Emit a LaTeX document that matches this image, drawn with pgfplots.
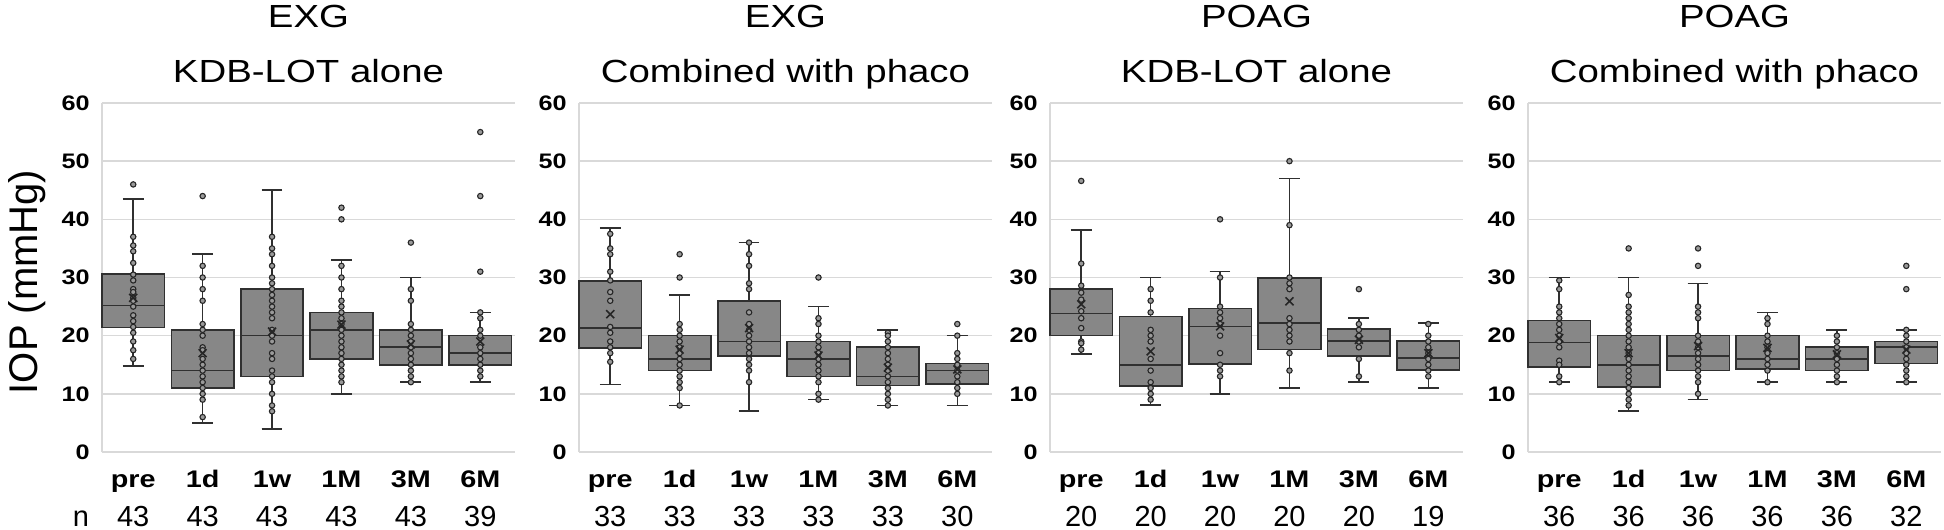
\documentclass[border=0pt]{standalone}
\usepackage{graphicx}
\usepackage{pgfplots}
\pgfplotsset{compat=1.18}
\usepgfplotslibrary{statistics}
\usepackage{fontspec}
\setmainfont{Liberation Sans}[FakeStretch=1.2]
\newfontfamily\plainfont{Liberation Sans}
\newcommand{\sx}[1]{\scalebox{1.2}[1]{#1}}
\definecolor{gridc}{HTML}{D9D9D9}
\definecolor{boxfill}{HTML}{878787}
\definecolor{boxline}{HTML}{303030}
\definecolor{ptfill}{HTML}{9A9A9A}
\tikzset{
  nlab/.style={anchor=base, yshift=-37pt, inner sep=0pt, font=\plainfont\fontsize{14.5}{16}\selectfont},
  tlab/.style={anchor=base, inner sep=0pt, font=\fontsize{16}{18}\selectfont},
}
\pgfplotsset{
  panel/.style={
    scale only axis, width=206.5pt, height=174.5pt,
    anchor=south west,
    xmin=-0.45, xmax=5.5, ymin=0, ymax=60,
    ytick={0,10,...,60}, xtick={0,...,5},
    yticklabels={\sx{0},\sx{10},\sx{20},\sx{30},\sx{40},\sx{50},\sx{60}},
    xticklabels={\sx{pre},\sx{1d},\sx{1w},\sx{1M},\sx{3M},\sx{6M}},
    axis lines=left, axis line style={draw=gridc, line width=0.8pt, -},
    ymajorgrids, major grid style={draw=gridc, line width=0.8pt},
    major tick length=0pt,
    yticklabel style={font=\plainfont\bfseries\fontsize{10.5}{12}\selectfont, anchor=east, inner sep=0pt, xshift=-6pt},
    xticklabel style={font=\plainfont\bfseries\fontsize{12}{14}\selectfont, anchor=base, inner sep=0pt, yshift=-17.5pt},
    clip=false,
    boxplot/draw direction=y,
    boxplot/box extend=0.9, boxplot/whisker extend=0.3,
  },
  bx/.style={draw=boxline, fill=boxfill, line width=0.8pt, solid},
  pts/.style={only marks, mark=*, mark size=1.35pt, mark options={fill=ptfill, draw=black!85, line width=0.55pt}},
  mns/.style={only marks, mark=x, mark size=2.8pt, mark options={draw=black!85, line width=0.8pt}},
}
\newcommand{\nrow}[6]{%
  \node[nlab] at (axis cs:0,0) {#1};
  \node[nlab] at (axis cs:1,0) {#2};
  \node[nlab] at (axis cs:2,0) {#3};
  \node[nlab] at (axis cs:3,0) {#4};
  \node[nlab] at (axis cs:4,0) {#5};
  \node[nlab] at (axis cs:5,0) {#6};}
\newcommand{\ptitle}[2]{%
  \node[tlab, yshift=37.5pt] at (rel axis cs:0.5,1) {#1};
  \node[tlab, yshift=10pt] at (rel axis cs:0.5,1) {#2};}
\newcommand{\bp}[6]{%
  \addplot[bx, boxplot prepared={draw position=#1, lower whisker=#2, lower quartile=#3, median=#4, upper quartile=#5, upper whisker=#6}] coordinates {};}
\begin{document}
\begin{tikzpicture}
\useasboundingbox (0,0) rectangle (972pt,265pt);
\node[rotate=90, anchor=base, inner sep=0pt, font=\plainfont\fontsize{20}{22}\selectfont] at (18.5pt,124pt) {IOP (mmHg)};
% ---------- Panel 1 ----------
\begin{axis}[panel, at={(51pt,39pt)}]
\bp{0}{14.8}{21.4}{25.2}{30.6}{43.5}
\bp{1}{5}{11}{14}{21}{34}
\bp{2}{4}{13}{20}{28}{45}
\bp{3}{10}{16}{21}{24}{33}
\bp{4}{12}{15}{18}{21}{30}
\bp{5}{12}{15}{17}{20}{24}
\addplot[pts] coordinates {
(0,46)(0,37)(0,35.5)(0,34.5)(0,32.5)(0,30.5)(0,29.5)(0,28)(0,27.5)(0,26.5)(0,26)(0,25)(0,23.5)(0,22.5)(0,21.5)(0,20.5)(0,19)(0,17.5)(0,16)
(1,44)(1,32)(1,30)(1,28)(1,26)(1,22)(1,21)(1,20)(1,18)(1,17.5)(1,16)(1,15)(1,14)(1,13)(1,12)(1,11)(1,10)(1,9)(1,6)
(2,37)(2,35)(2,34)(2,32)(2,30)(2,29)(2,28)(2,27)(2,26)(2,25)(2,24)(2,23)(2,21)(2,20)(2,19)(2,17)(2,16)(2,14)(2,13)(2,12)(2,10)(2,8)(2,7)
(3,42)(3,40)(3,32)(3,30)(3,28)(3,26)(3,25)(3,24)(3,23)(3,22)(3,21)(3,20)(3,19)(3,18)(3,17)(3,16)(3,15)(3,14)(3,13)(3,12)
(4,36)(4,28)(4,26)(4,22)(4,21)(4,20)(4,19)(4,18)(4,17)(4,16)(4,15)(4,14)(4,13)(4,12)
(5,55)(5,44)(5,31)(5,24)(5,23)(5,21)(5,20)(5,18)(5,17)(5,16)(5,15)(5,14)(5,13)
};
\addplot[mns] coordinates {(0,26.5)(1,17)(2,20.7)(3,21.9)(4,18.5)(5,19)};
\ptitle{EXG}{KDB-LOT alone}
\nrow{43}{43}{43}{43}{43}{39}
\node[nlab, xshift=-10.5pt] at (rel axis cs:0,0) {n};
\end{axis}
% ---------- Panel 2 ----------
\begin{axis}[panel, at={(289.5pt,39pt)}]
\bp{0}{11.6}{17.9}{21.3}{29.4}{38.5}
\bp{1}{8}{14}{16}{20}{27}
\bp{2}{7}{16.5}{19}{26}{36}
\bp{3}{9}{13}{16}{19}{25}
\bp{4}{8}{11.4}{13}{18}{21}
\bp{5}{8}{11.7}{14}{15.2}{20}
\addplot[pts] coordinates {
(0,37.5)(0,35)(0,34)(0,31)(0,29.5)(0,27.5)(0,26)(0,21.5)(0,20.5)(0,19)(0,18)(0,17)(0,15.5)
(1,34)(1,30)(1,22)(1,21)(1,20)(1,19)(1,18)(1,17)(1,16)(1,15)(1,14)(1,13)(1,12)(1,11)(1,8)
(2,36)(2,34)(2,32)(2,29)(2,28)(2,24)(2,22)(2,21)(2,20)(2,19)(2,18)(2,17)(2,16)(2,15)(2,14)(2,12)
(3,30)(3,23)(3,22)(3,20)(3,19)(3,18)(3,17)(3,16)(3,15)(3,14)(3,13)(3,12)(3,10)(3,9)
(4,20.5)(4,20)(4,19)(4,18)(4,17)(4,16)(4,15)(4,14)(4,13)(4,12)(4,11)(4,10)(4,9)(4,8)
(5,22)(5,20)(5,17)(5,16)(5,15)(5,14)(5,13)(5,12)(5,11)(5,10)
};
\addplot[mns] coordinates {(0,23.7)(1,17.6)(2,21.3)(3,16.6)(4,14.5)(5,14.2)};
\ptitle{EXG}{Combined with phaco}
\nrow{33}{33}{33}{33}{33}{30}
\end{axis}
% ---------- Panel 3 ----------
\begin{axis}[panel, at={(525pt,39pt)}]
\bp{0}{16.8}{20}{23.8}{28}{38.2}
\bp{1}{8.1}{11.3}{15}{23.3}{30}
\bp{2}{10}{15.1}{21.6}{24.7}{31}
\bp{3}{11}{17.6}{22.2}{29.9}{47}
\bp{4}{12}{16.5}{19.1}{21.1}{23}
\bp{5}{11}{14.1}{16.2}{19.1}{22.2}
\addplot[pts] coordinates {
(0,46.6)(0,32.4)(0,28.6)(0,27.4)(0,26.2)(0,24.2)(0,23)(0,21.3)(0,19)(0,18.7)(0,17.6)
(1,28)(1,26)(1,24)(1,21)(1,20)(1,19)(1,16)(1,14)(1,12)(1,11)(1,10)(1,9)
(2,40)(2,30)(2,25)(2,24)(2,23)(2,22)(2,20)(2,17)(2,15)(2,14)(2,13)
(3,50)(3,39)(3,30)(3,29)(3,28)(3,23)(3,22)(3,21)(3,20)(3,19)(3,17)(3,14)
(4,28)(4,22)(4,21)(4,20)(4,19)(4,18)(4,16)(4,13)
(5,22)(5,20)(5,19)(5,18)(5,17)(5,16)(5,15)(5,14)(5,13)
};
\addplot[mns] coordinates {(0,25.4)(1,17.3)(2,21.6)(3,25.9)(4,19.3)(5,17)};
\ptitle{POAG}{KDB-LOT alone}
\nrow{20}{20}{20}{20}{20}{19}
\end{axis}
% ---------- Panel 4 ----------
\begin{axis}[panel, at={(764pt,39pt)}]
\bp{0}{12}{14.6}{18.8}{22.6}{30}
\bp{1}{7}{11.2}{15}{20}{30}
\bp{2}{9}{14}{16.5}{20}{29}
\bp{3}{12}{14.3}{16}{20}{24}
\bp{4}{12}{14}{16}{18}{21}
\bp{5}{12}{15.2}{18}{19}{21}
\addplot[pts] coordinates {
(0,29.5)(0,28)(0,25)(0,24)(0,23)(0,22)(0,21)(0,20)(0,19)(0,18)(0,15.7)(0,15)(0,13)(0,12)
(1,35)(1,27)(1,25)(1,24)(1,23)(1,22)(1,21)(1,20)(1,19)(1,18)(1,17)(1,16)(1,15)(1,14)(1,13)(1,12)(1,11)(1,10)(1,9)(1,8)
(2,35)(2,32)(2,25)(2,24)(2,23)(2,20)(2,19)(2,18)(2,17)(2,16)(2,15)(2,14)(2,13)(2,12)(2,10)
(3,23)(3,22)(3,20)(3,19)(3,18)(3,17)(3,16)(3,15)(3,14)(3,12)
(4,20)(4,19)(4,18)(4,17)(4,16)(4,15)(4,14)(4,13)(4,12)
(5,32)(5,28)(5,21)(5,20)(5,19)(5,18)(5,17)(5,16)(5,15)(5,14)(5,13)(5,12)
};
\addplot[mns] coordinates {(0,19.6)(1,17)(2,18.2)(3,17.9)(4,16.8)(5,17.6)};
\ptitle{POAG}{Combined with phaco}
\nrow{36}{36}{36}{36}{36}{32}
\end{axis}
\end{tikzpicture}
\end{document}
